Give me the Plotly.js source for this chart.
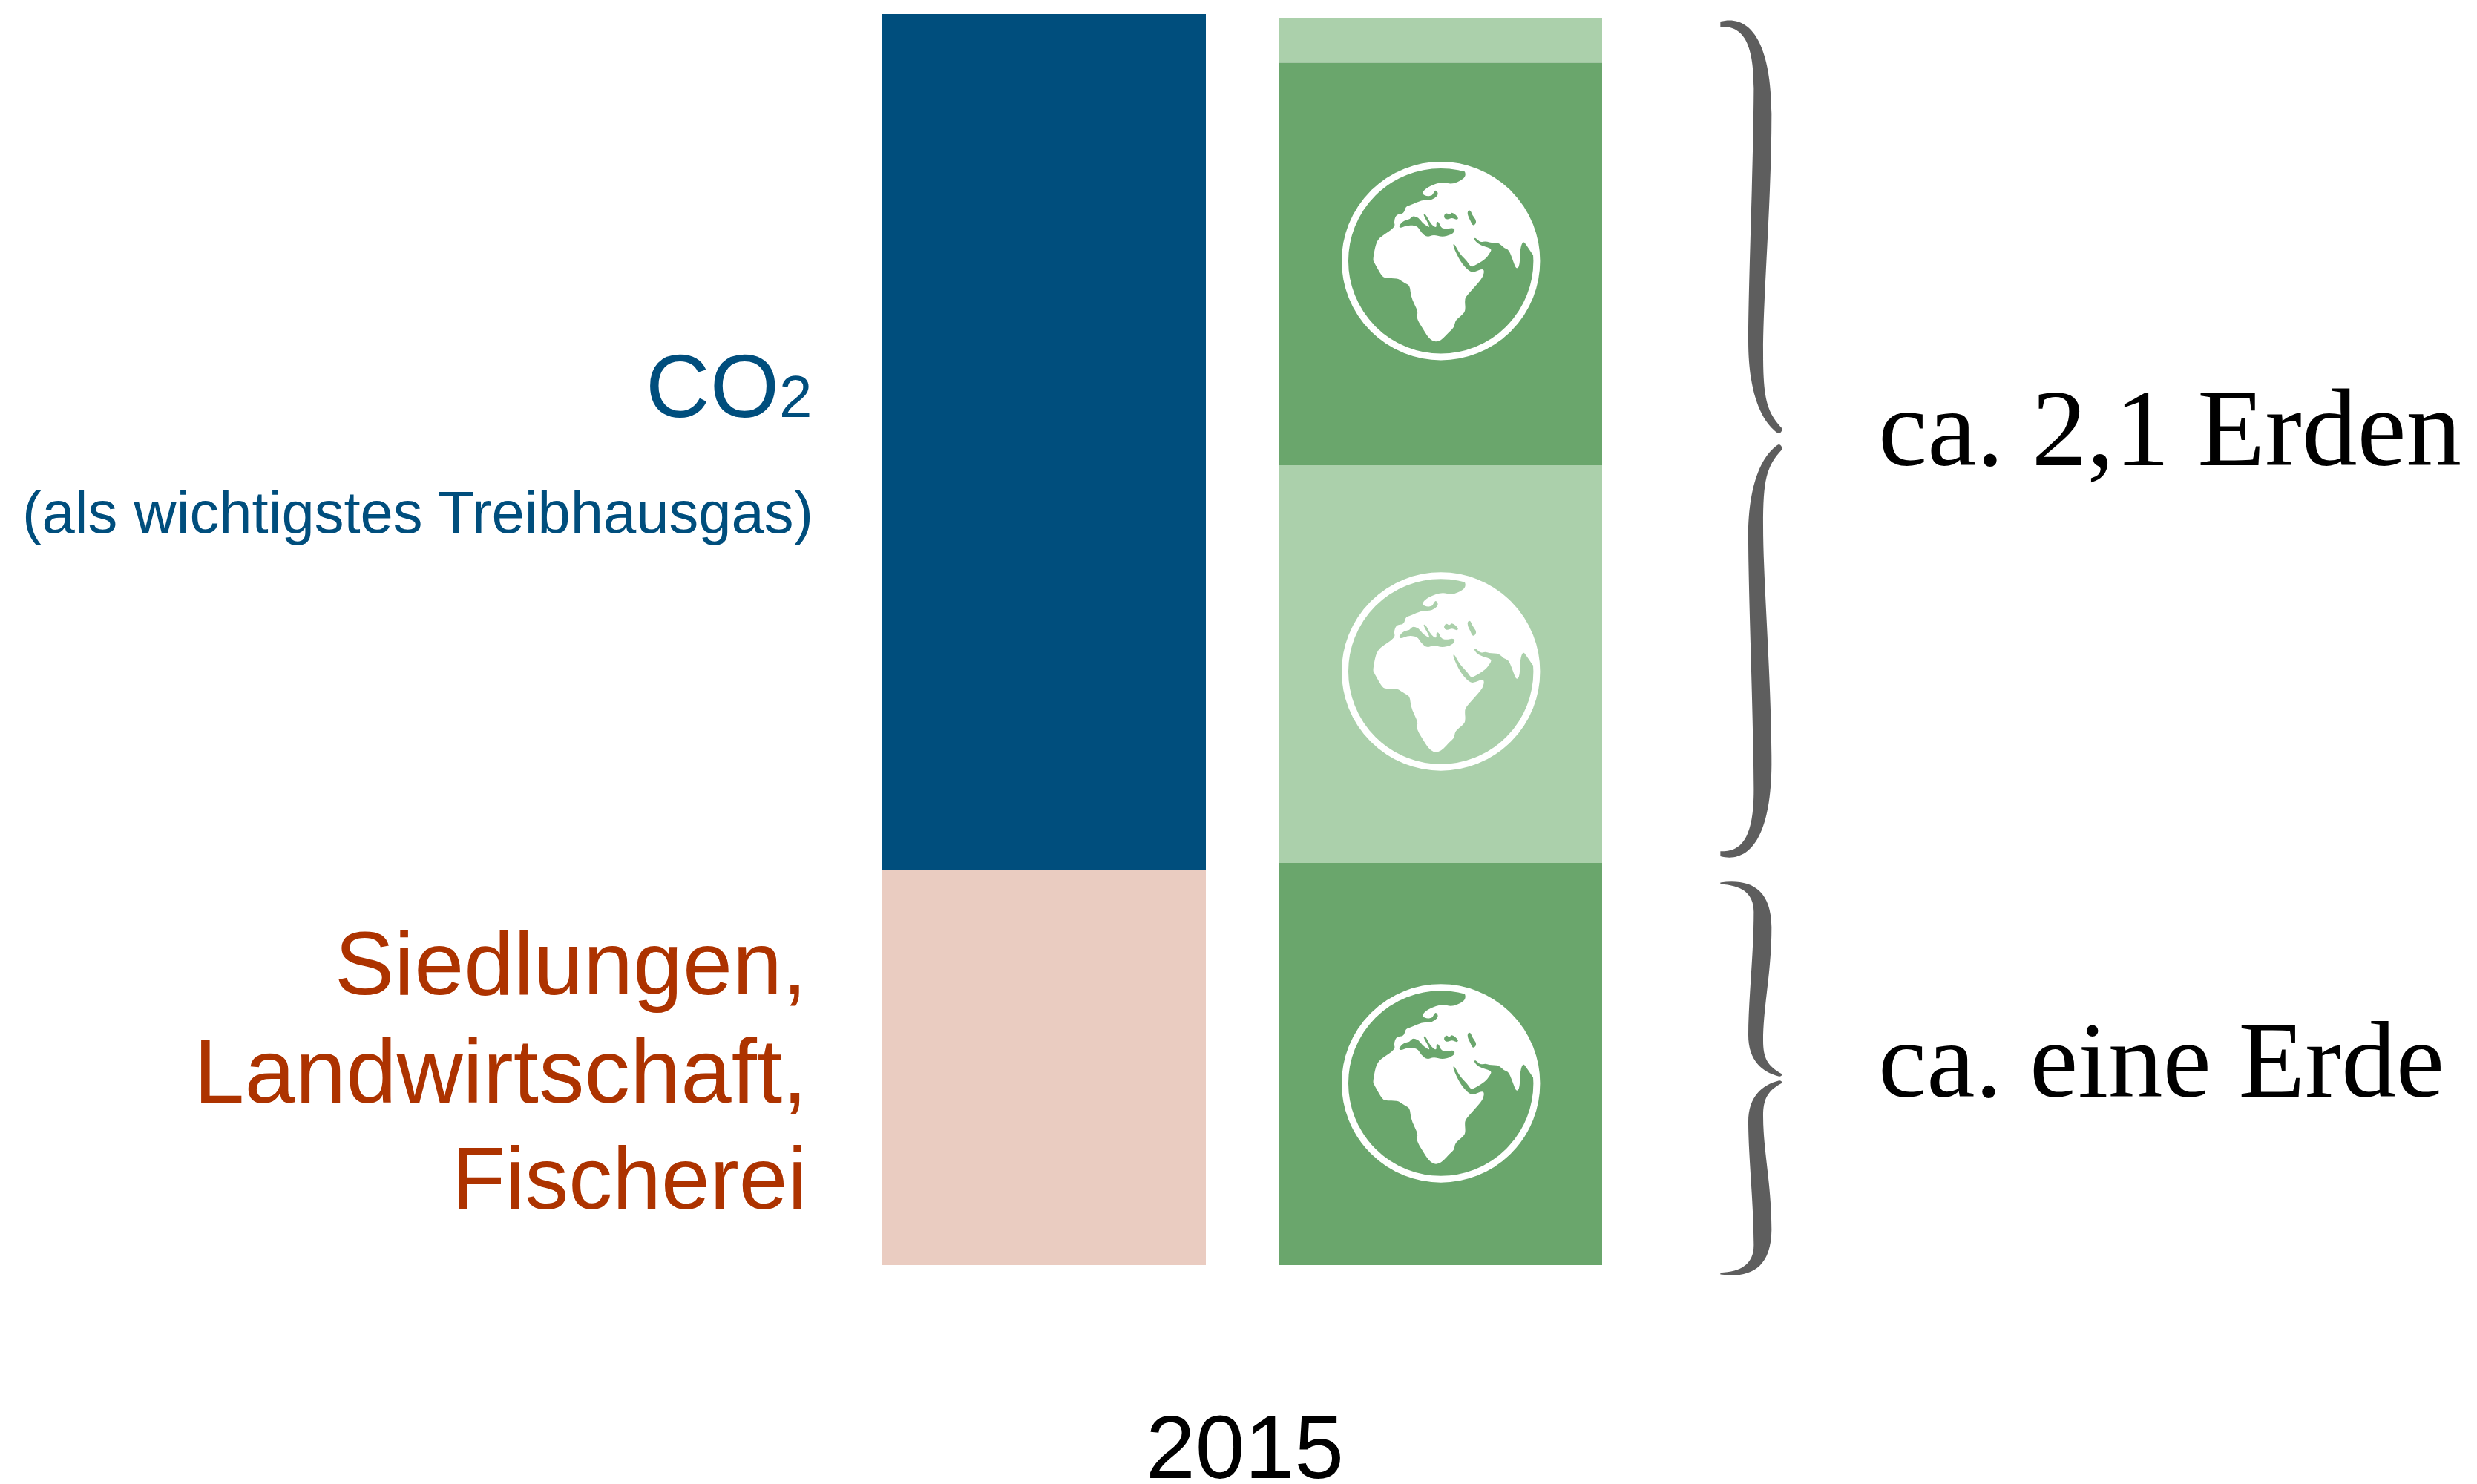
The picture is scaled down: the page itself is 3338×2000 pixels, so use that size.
<!DOCTYPE html>
<html>
<head>
<meta charset="utf-8">
<script src="https://cdn.plot.ly/plotly-3.0.1.min.js"></script>
<style>html,body{margin:0;padding:0;background:#fff}</style>
</head>
<body>
<div id="chart" style="width:3338px;height:2000px"></div>
<script>
// ---- data: footprint of 2015, in "Earths" ----
const categories = ["Verbrauch", "Biokapazität"];
const siedlungen = [0.982, null];
const co2        = [2.129, null];
const erde1      = [null, 1.000];
const erde2      = [null, 0.989];
const erde3      = [null, 1.002];
const erde4      = [null, 0.111];
const yearLabel  = "2015";
const co2Label   = "CO<span style=\"font-size:80px\">2</span>";
const co2Note    = "(als wichtigstes Treibhausgas)";
const landLines  = ["Siedlungen,", "Landwirtschaft,", "Fischerei"];
const label21    = "ca. 2,1 Erden";
const label10    = "ca. eine Erde";

// ---- colours ----
const BLUE="#004e7d", PINK="#eaccc1", GREEN="#6aa66c", LIGHT="#abd0ab", RED="#ad3300", GREY="#5e5e5e";

// ---- frame: one Earth is 542 px tall, the bars stand 534.5 px apart ----
const W=3338, H=2000, ml=16, mb=295, baseY=1705, unit=542, x0px=1407, step=534.5;
const xd = px => (px-x0px)/step;
const yd = py => (baseY-py)/unit;
const xp = px => (px-ml)/(W-ml);
const yp = py => (baseY-py)/baseY;

function bar(name, vals, color){
  return {type:"bar", name, x:categories, y:vals, marker:{color, line:{width:0}}, hoverinfo:"skip"};
}
const traces=[
  bar("Siedlungen, Landwirtschaft, Fischerei", siedlungen, PINK),
  bar("CO2", co2, BLUE),
  bar("Erde 1", erde1, GREEN),
  bar("Erde 2", erde2, LIGHT),
  bar("Erde 3", erde3, GREEN),
  bar("Erde 4", erde4, LIGHT)
];

// ---- globe icon outline, traced in a 855-px-wide crop centred on (425,425) ----
const coast=[[800,405],[790,390],[770,360],[760,347],[752,355],[745,385],[745,420],[741,448],[733,456],[725,448],[712,410],[698,378],[680,373],[660,352],[640,352],[620,350],[605,345],[585,350],[570,335],[561,331],[560,340],[575,355],[595,365],[615,370],[631,378],[622,395],[605,418],[560,445],[548,449],[540,440],[530,425],[510,405],[495,385],[480,356],[474,358],[480,378],[495,410],[510,435],[530,458],[548,471],[565,468],[590,457],[601,462],[595,490],[575,515],[530,565],[521,580],[525,625],[515,640],[490,660],[482,672],[478,695],[460,710],[435,738],[415,751],[395,751],[375,735],[360,712],[325,655],[333,632],[318,600],[303,565],[300,525],[280,515],[265,505],[250,495],[200,495],[185,485],[155,430],[150,420],[160,365],[170,340],[185,325],[241,288],[235,265],[245,236],[275,235],[283,205],[300,200],[350,178],[378,180],[400,172],[416,155],[405,136],[395,150],[390,160],[370,164],[350,155],[355,140],[380,122],[430,104],[470,116],[515,95],[526,78],[520,58]];
const med=[[255,287],[265,292],[290,280],[330,283],[345,310],[370,330],[395,318],[430,328],[465,320],[482,305],[478,290],[445,297],[425,290],[416,266],[406,268],[408,290],[395,285],[380,268],[365,238],[354,234],[360,250],[375,275],[380,290],[365,282],[350,270],[335,250],[310,242],[300,257],[275,262],[262,275]];
const blackSea=[[437,240],[448,230],[460,240],[470,226],[497,250],[490,260],[470,250],[455,257],[440,255]];
const caspian=[[533,222],[545,219],[552,240],[568,260],[566,276],[553,283],[546,265],[533,240]];

function arcPoints(){           // north-east rim where the land meets the ring
  const pts=[];
  [14.5,24,34,44,54,64,74,84].forEach(a=>{
    const r=a*Math.PI/180; pts.push([425+384*Math.sin(r),425-384*Math.cos(r)]);
  });
  return pts;
}
function smooth(points){        // closed curve through the midpoints, local px, y up
  const s=points.map(p=>[(p[0]-425)/3,-(p[1]-425)/3]);
  const mid=(a,b)=>[(a[0]+b[0])/2,(a[1]+b[1])/2];
  let m=mid(s[s.length-1],s[0]);
  let d=`M ${m[0]} ${m[1]}`;
  s.forEach((p,i)=>{const q=mid(p,s[(i+1)%s.length]); d+=` Q ${p[0]} ${p[1]} ${q[0]} ${q[1]}`;});
  return d+" Z";
}
const landPath=[coast.concat(arcPoints()),med,blackSea,caspian].map(smooth).join(" ");

function globe(yMid){
  const xc=xd(1941.7), yc=yd(yMid);
  const base={xref:"x",yref:"y",xsizemode:"pixel",ysizemode:"pixel",xanchor:xc,yanchor:yc,layer:"above"};
  return [
    Object.assign({},base,{type:"circle",x0:-129.2,x1:129.2,y0:-129.2,y1:129.2,line:{color:"#fff",width:9},fillcolor:"rgba(0,0,0,0)"}),
    Object.assign({},base,{type:"path",path:landPath,fillcolor:"#fff",fillrule:"evenodd",line:{width:0}})
  ];
}

// ---- curly braces ----
function brace(half,yMirror,sx,sy,px,py){
  // half = outline of the upper half in crop coordinates: start + cubic triples
  const cv=(p,mirror)=>{
    const y=mirror?2*yMirror-p[1]:p[1];
    return `${p[0]/sx} ${-(y-yMirror)/sy}`;
  };
  const build=mirror=>{
    let d="M "+cv(half[0],mirror);
    for(let i=1;i<half.length;i+=3) d+=` C ${cv(half[i],mirror)} ${cv(half[i+1],mirror)} ${cv(half[i+2],mirror)}`;
    return d+" Z";
  };
  return {type:"path",xref:"paper",yref:"paper",xsizemode:"pixel",ysizemode:"pixel",xanchor:xp(px),yanchor:yp(py),
    path:build(false)+" "+build(true),fillcolor:GREY,line:{width:0},layer:"above"};
}
const braceTall=[[205,38],[320,25],[410,70],[412,200],[412,350],[378,520],[378,620],[378,700],[390,725],[456,755],[452,762],[445,765],[435,762],[380,745],[318,700],[318,600],[318,500],[338,300],[340,160],[342,70],[290,45],[205,47]];
const braceShort=[[205,103],[320,90],[410,120],[412,260],[412,420],[378,540],[378,660],[378,720],[395,750],[456,778],[452,784],[448,787],[440,785],[375,770],[318,730],[318,640],[318,520],[340,350],[340,210],[342,140],[290,112],[205,109]];

// thin white seam between the top light segment and the green one below it
const seamY = erde1[1]+erde2[1]+erde3[1];
const shapes=[
  ...globe(351.7), ...globe(905), ...globe(1460),
  brace(braceTall,773,3,1.3067,2250,773/1.3067),
  brace(braceShort,793,3,2.613,2250,1150+793/2.613),
  {type:"line",xref:"x",yref:"y",x0:xd(1720),x1:xd(2165),y0:seamY,y1:seamY,line:{color:"#fff",width:1},layer:"above"}
];

// ---- labels ----
function note(text,xPx,yPx,size,color,family,anchor){
  return {xref:"paper",yref:"paper",x:xp(xPx),y:yp(yPx),text,showarrow:false,xanchor:anchor||"right",yanchor:"middle",
    align:anchor||"right",font:{size,color,family},borderpad:0};
}
const SANS="Liberation Sans, Arial, sans-serif", SERIF="Liberation Serif, serif";
const annotations=[
  note(co2Label,1096,520,120,BLUE,SANS),
  note(co2Note,1097,690,79.6,BLUE,SANS),
  note(landLines[0],1089,1298,120.5,RED,SANS),
  note(landLines[1],1089,1443,123,RED,SANS),
  note(landLines[2],1089,1588,118,RED,SANS),
  note(label21,2530,576,149,"#000",SERIF,"left"),
  note(label10,2530,1428,147,"#000",SERIF,"left"),
  note(yearLabel,1677,1950,120,"#000",SANS,"center")
];

const layout={
  width:W,height:H,autosize:false,showlegend:false,
  paper_bgcolor:"#fff",plot_bgcolor:"#fff",
  margin:{l:ml,r:0,t:0,b:mb,pad:0},
  barmode:"stack",bargap:0.185,
  xaxis:{type:"category",range:[xd(ml),xd(W)],showgrid:false,zeroline:false,showline:false,showticklabels:false,ticks:"",fixedrange:true},
  yaxis:{range:[0,baseY/unit],showgrid:false,zeroline:false,showline:false,showticklabels:false,ticks:"",fixedrange:true},
  shapes,annotations
};
Plotly.newPlot("chart",traces,layout,{displayModeBar:false,staticPlot:true,responsive:false});
</script>
</body>
</html>
